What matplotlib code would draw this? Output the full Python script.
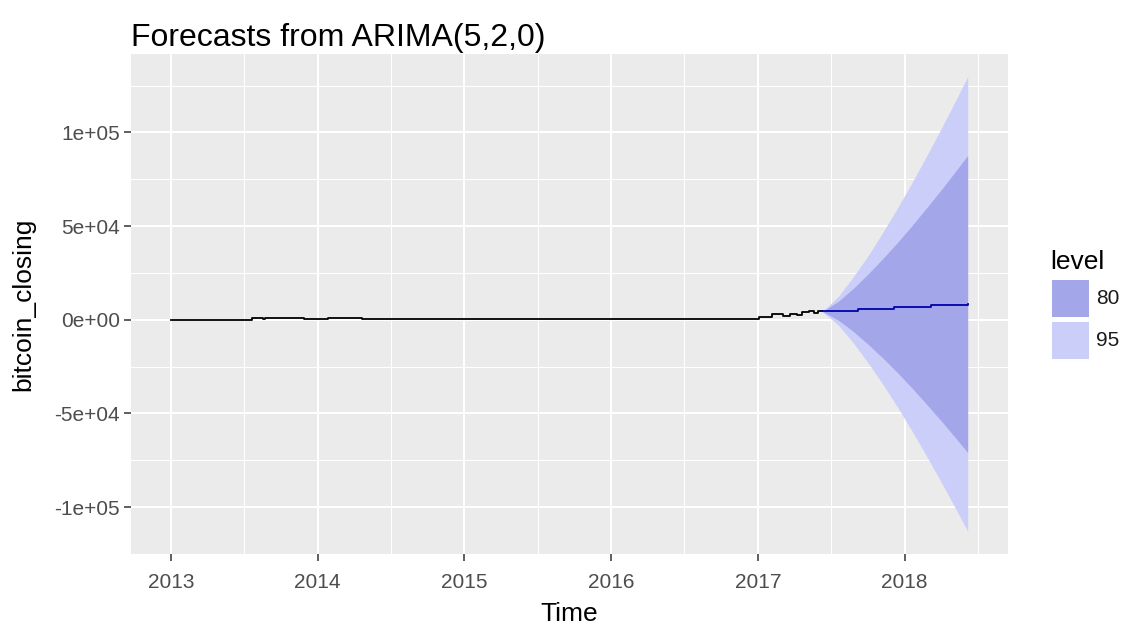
import numpy as np
import matplotlib.pyplot as plt
from matplotlib.patches import Rectangle
from matplotlib.ticker import MultipleLocator, FuncFormatter

plt.rcParams['font.family'] = ['Liberation Sans', 'DejaVu Sans']

# observed closing price (stepwise, decimal years)
hist_t = [2013.00, 2013.55, 2013.63, 2013.64, 2013.91, 2014.07, 2014.30, 2016.08,
          2017.01, 2017.10, 2017.17, 2017.22, 2017.27, 2017.30, 2017.35, 2017.38,
          2017.41, 2017.44]
hist_v = [100, 900, 500, 950, 150, 900, 200, 500,
          1500, 3000, 2200, 3200, 2500, 4200, 4800, 3500,
          4400, 4400]

# point forecast
fc_t = [2017.44, 2017.68, 2017.93, 2018.18, 2018.43]
fc_v = [4400, 5700, 6800, 7900, 8400]

# prediction intervals
band_t = [2017.44, 2017.55, 2017.65, 2017.75, 2017.85, 2017.95,
          2018.05, 2018.15, 2018.25, 2018.35, 2018.43]
hi95 = [4400, 12600, 22800, 34000, 46400, 59400, 73100, 87400, 102100, 117300, 129700]
lo95 = [4400, -3000, -12300, -22800, -34200, -46400, -59300, -72800, -86700, -101100, -112900]
hi80 = [4400, 9900, 16700, 24300, 32500, 41100, 50200, 59700, 69400, 79500, 87700]
lo80 = [4400, -300, -6200, -13000, -20300, -28100, -36400, -45100, -54000, -63300, -70900]

levels = ['80', '95']
col80 = '#A3A7EA'
col95 = '#CBCEF9'

W, H = 1128, 628
fig = plt.figure(figsize=(W / 100, H / 100), dpi=100)
ax = fig.add_axes([131 / W, 1 - 554 / H, (1007.5 - 131) / W, (554 - 54) / H])
ax.set_facecolor('#EBEBEB')
for s in ax.spines.values():
    s.set_visible(False)

ax.fill_between(band_t, lo95, hi95, color=col95, lw=0, zorder=2)
ax.fill_between(band_t, lo80, hi80, color=col80, lw=0, zorder=3)
ax.plot(hist_t, hist_v, color='black', lw=1.3, drawstyle='steps-post', zorder=4)
ax.plot(fc_t, fc_v, color='#0000AA', lw=1.3, drawstyle='steps-post', zorder=5)

ax.margins(x=0.05, y=0.05)

ax.xaxis.set_major_locator(MultipleLocator(1))
ax.xaxis.set_minor_locator(MultipleLocator(0.5))
ax.yaxis.set_major_locator(MultipleLocator(50000))
ax.yaxis.set_minor_locator(MultipleLocator(25000))
ax.xaxis.set_major_formatter(FuncFormatter(lambda v, p: '%d' % round(v)))
ax.yaxis.set_major_formatter(FuncFormatter(lambda v, p: '%.0e' % v))

ax.grid(which='major', color='white', lw=1.5, zorder=0)
ax.grid(which='minor', color='white', lw=0.75, zorder=0)
ax.set_axisbelow(True)

ax.tick_params(which='major', length=4.8, width=1.1, color='#333333',
               labelsize=15, labelcolor='#4D4D4D')
ax.tick_params(axis='x', pad=9)
ax.tick_params(axis='y', pad=3)
ax.tick_params(which='minor', length=0)

ax.set_xlabel('Time', fontsize=19, labelpad=7)
ax.set_ylabel('bitcoin_closing', fontsize=19, labelpad=14)

fig.text(131 / W, 1 - 46 / H, 'Forecasts from ARIMA(5,2,0)', fontsize=23,
         ha='left', va='baseline')

# legend
fig.text(1050 / W, 1 - 262 / H, 'level', fontsize=19, ha='left', va='center')
keys = [(280, col80), (322, col95)]
for lab, (top, c) in zip(levels, keys):
    fig.add_artist(Rectangle((1052 / W, 1 - (top + 37) / H), 37 / W, 37 / H,
                             transform=fig.transFigure, color=c, lw=0))
    fig.text(1096 / W, 1 - (top + 18.5) / H, lab, fontsize=15, color='#1A1A1A',
             ha='left', va='center')

fig.savefig('out.png', dpi=100)
